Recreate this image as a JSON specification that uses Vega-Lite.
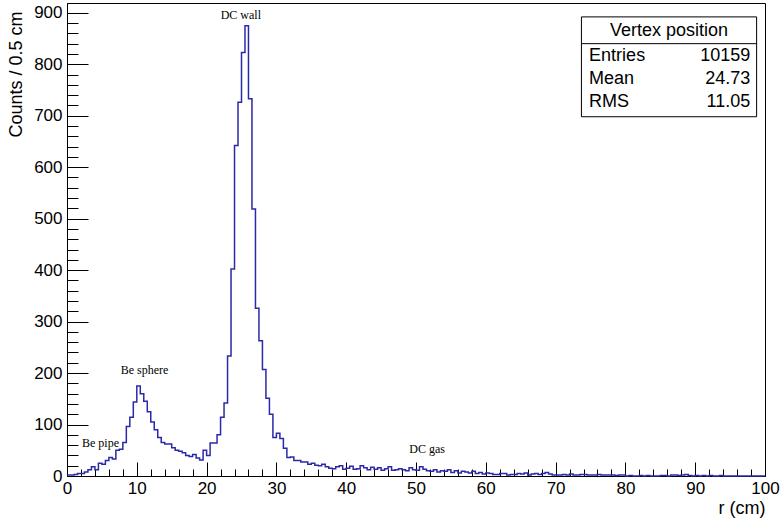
{
  "$schema": "https://vega.github.io/schema/vega-lite/v6.json",
  "width": 698,
  "height": 473,
  "autosize": "none",
  "padding": {"left": 67, "top": 3, "right": 16, "bottom": 47},
  "background": "white",
  "config": {
    "view": {"stroke": "black", "strokeWidth": 1},
    "axis": {"grid": false, "domainColor": "black", "tickColor": "black", "labelColor": "black", "titleColor": "black", "labelFont": "Liberation Sans", "titleFont": "Liberation Sans", "labelFontSize": 17, "titleFontSize": 18, "titleFontWeight": "normal"}
  },
  "resolve": {"axis": {"x": "independent", "y": "independent"}},
  "datasets": {
    "hist": [
      {"r":0,"c":2},{"r":0.5,"c":2},{"r":1,"c":3},{"r":1.5,"c":5},{"r":2,"c":5},{"r":2.5,"c":8},{"r":3,"c":12},{"r":3.5,"c":18},{"r":4,"c":12},{"r":4.5,"c":25},
      {"r":5,"c":23},{"r":5.5,"c":30},{"r":6,"c":36},{"r":6.5,"c":33},{"r":7,"c":50},{"r":7.5,"c":52},{"r":8,"c":65},{"r":8.5,"c":96},{"r":9,"c":114},{"r":9.5,"c":144},
      {"r":10,"c":175},{"r":10.5,"c":160},{"r":11,"c":145},{"r":11.5,"c":125},{"r":12,"c":105},{"r":12.5,"c":90},{"r":13,"c":75},{"r":13.5,"c":65},{"r":14,"c":62},{"r":14.5,"c":62},
      {"r":15,"c":55},{"r":15.5,"c":50},{"r":16,"c":48},{"r":16.5,"c":45},{"r":17,"c":40},{"r":17.5,"c":38},{"r":18,"c":42},{"r":18.5,"c":35},{"r":19,"c":31},{"r":19.5,"c":50},
      {"r":20,"c":40},{"r":20.5,"c":64},{"r":21,"c":64},{"r":21.5,"c":80},{"r":22,"c":114},{"r":22.5,"c":142},{"r":23,"c":233},{"r":23.5,"c":402},{"r":24,"c":642},{"r":24.5,"c":726},
      {"r":25,"c":823},{"r":25.5,"c":875},{"r":26,"c":733},{"r":26.5,"c":519},{"r":27,"c":326},{"r":27.5,"c":263},{"r":28,"c":207},{"r":28.5,"c":151},{"r":29,"c":120},{"r":29.5,"c":75},
      {"r":30,"c":83},{"r":30.5,"c":73},{"r":31,"c":54},{"r":31.5,"c":36},{"r":32,"c":37},{"r":32.5,"c":30},{"r":33,"c":30},{"r":33.5,"c":27},{"r":34,"c":27},{"r":34.5,"c":23},
      {"r":35,"c":25},{"r":35.5,"c":21},{"r":36,"c":20},{"r":36.5,"c":23},{"r":37,"c":18},{"r":37.5,"c":15},{"r":38,"c":14},{"r":38.5,"c":18},{"r":39,"c":20},{"r":39.5,"c":13},
      {"r":40,"c":15},{"r":40.5,"c":19},{"r":41,"c":13},{"r":41.5,"c":14},{"r":42,"c":20},{"r":42.5,"c":16},{"r":43,"c":12},{"r":43.5,"c":17},{"r":44,"c":13},{"r":44.5,"c":16},
      {"r":45,"c":11},{"r":45.5,"c":14},{"r":46,"c":18},{"r":46.5,"c":11},{"r":47,"c":12},{"r":47.5,"c":14},{"r":48,"c":12},{"r":48.5,"c":10},{"r":49,"c":16},{"r":49.5,"c":12},
      {"r":50,"c":11},{"r":50.5,"c":18},{"r":51,"c":13},{"r":51.5,"c":10},{"r":52,"c":9},{"r":52.5,"c":12},{"r":53,"c":8},{"r":53.5,"c":10},{"r":54,"c":9},{"r":54.5,"c":12},
      {"r":55,"c":7},{"r":55.5,"c":10},{"r":56,"c":6},{"r":56.5,"c":9},{"r":57,"c":8},{"r":57.5,"c":6},{"r":58,"c":9},{"r":58.5,"c":5},{"r":59,"c":7},{"r":59.5,"c":4},
      {"r":60,"c":6},{"r":60.5,"c":5},{"r":61,"c":3},{"r":61.5,"c":3},{"r":62,"c":5},{"r":62.5,"c":5},{"r":63,"c":2},{"r":63.5,"c":3},{"r":64,"c":3},{"r":64.5,"c":5},
      {"r":65,"c":4},{"r":65.5,"c":6},{"r":66,"c":2},{"r":66.5,"c":4},{"r":67,"c":5},{"r":67.5,"c":3},{"r":68,"c":5},{"r":68.5,"c":7},{"r":69,"c":4},{"r":69.5,"c":2},
      {"r":70,"c":2},{"r":70.5,"c":2},{"r":71,"c":3},{"r":71.5,"c":2},{"r":72,"c":4},{"r":72.5,"c":2},{"r":73,"c":2},{"r":73.5,"c":3},{"r":74,"c":3},{"r":74.5,"c":2},
      {"r":75,"c":2},{"r":75.5,"c":2},{"r":76,"c":3},{"r":76.5,"c":2},{"r":77,"c":2},{"r":77.5,"c":2},{"r":78,"c":2},{"r":78.5,"c":1},{"r":79,"c":2},{"r":79.5,"c":2},
      {"r":80,"c":0},{"r":80.5,"c":1},{"r":81,"c":0},{"r":81.5,"c":0},{"r":82,"c":1},{"r":82.5,"c":0},{"r":83,"c":1},{"r":83.5,"c":0},{"r":84,"c":0},{"r":84.5,"c":0},
      {"r":85,"c":1},{"r":85.5,"c":1},{"r":86,"c":0},{"r":86.5,"c":2},{"r":87,"c":2},{"r":87.5,"c":1},{"r":88,"c":2},{"r":88.5,"c":3},{"r":89,"c":1},{"r":89.5,"c":0},
      {"r":90,"c":1},{"r":90.5,"c":0},{"r":91,"c":1},{"r":91.5,"c":0},{"r":92,"c":1},{"r":92.5,"c":0},{"r":93,"c":0},{"r":93.5,"c":1},{"r":94,"c":0},{"r":94.5,"c":0},
      {"r":95,"c":0},{"r":95.5,"c":0},{"r":96,"c":0},{"r":96.5,"c":0},{"r":97,"c":0},{"r":97.5,"c":0},{"r":98,"c":0},{"r":98.5,"c":0},{"r":99,"c":0},{"r":99.5,"c":0},
      {"r":100,"c":0}
    ],
    "notes": [
      {"x": 4.8, "y": 64, "t": "Be pipe"},
      {"x": 11.1, "y": 205, "t": "Be sphere"},
      {"x": 24.9, "y": 896, "t": "DC wall"},
      {"x": 51.6, "y": 53, "t": "DC gas"}
    ],
    "box": [{"x1": 73.7, "x2": 98.8, "y1": 698, "y2": 892}],
    "sep": [{"x1": 73.7, "x2": 98.8, "y": 840}],
    "head": [{"x": 86.25, "y": 865, "t": "Vertex position"}],
    "statl": [{"x": 74.8, "y": 816, "t": "Entries"}, {"x": 74.8, "y": 772, "t": "Mean"}, {"x": 74.8, "y": 727, "t": "RMS"}],
    "statr": [{"x": 97.9, "y": 816, "t": "10159"}, {"x": 97.9, "y": 772, "t": "24.73"}, {"x": 97.9, "y": 727, "t": "11.05"}]
  },
  "layer": [
    {
      "data": {"name": "hist"},
      "mark": {"type": "line", "interpolate": "step-after", "color": "#2a2aa8", "strokeWidth": 1.5},
      "encoding": {
        "x": {"field": "r", "type": "quantitative", "scale": {"domain": [0, 100], "nice": false, "zero": false},
          "axis": {"orient": "bottom", "title": "r (cm)", "titleAnchor": "end", "titlePadding": -4,
            "values": [0,2,4,6,8,10,12,14,16,18,20,22,24,26,28,30,32,34,36,38,40,42,44,46,48,50,52,54,56,58,60,62,64,66,68,70,72,74,76,78,80,82,84,86,88,90,92,94,96,98,100],
            "labelExpr": "datum.value % 10 === 0 ? datum.label : ''",
            "labelOverlap": false, "labelFlush": false,
            "tickSize": {"condition": {"test": "datum.value % 10 === 0", "value": -14}, "value": -7},
            "labelPadding": 18}},
        "y": {"field": "c", "type": "quantitative", "scale": {"domain": [0, 919], "nice": false},
          "axis": {"orient": "left", "title": "Counts / 0.5 cm", "titleAnchor": "end", "titlePadding": 8, "titleY": 8,
            "values": [0,20,40,60,80,100,120,140,160,180,200,220,240,260,280,300,320,340,360,380,400,420,440,460,480,500,520,540,560,580,600,620,640,660,680,700,720,740,760,780,800,820,840,860,880,900],
            "labelExpr": "datum.value % 100 === 0 ? datum.label : ''",
            "labelOverlap": false, "labelFlush": false,
            "tickSize": {"condition": {"test": "datum.value % 100 === 0", "value": -21}, "value": -11},
            "labelPadding": 26}}
      }
    },
    {
      "data": {"name": "notes"},
      "mark": {"type": "text", "font": "Liberation Serif", "fontSize": 12, "color": "black", "align": "center", "baseline": "middle"},
      "encoding": {
        "x": {"field": "x", "type": "quantitative", "axis": null},
        "y": {"field": "y", "type": "quantitative", "axis": null},
        "text": {"field": "t"}
      }
    },
    {
      "data": {"name": "box"},
      "mark": {"type": "rect", "fill": "white", "stroke": "black", "strokeWidth": 1},
      "encoding": {
        "x": {"field": "x1", "type": "quantitative", "axis": null},
        "x2": {"field": "x2"},
        "y": {"field": "y1", "type": "quantitative", "axis": null},
        "y2": {"field": "y2"}
      }
    },
    {
      "data": {"name": "sep"},
      "mark": {"type": "rule", "color": "black", "strokeWidth": 1},
      "encoding": {
        "x": {"field": "x1", "type": "quantitative", "axis": null},
        "x2": {"field": "x2"},
        "y": {"field": "y", "type": "quantitative", "axis": null}
      }
    },
    {
      "data": {"name": "head"},
      "mark": {"type": "text", "font": "Liberation Sans", "fontSize": 18, "color": "black", "align": "center", "baseline": "middle"},
      "encoding": {
        "x": {"field": "x", "type": "quantitative", "axis": null},
        "y": {"field": "y", "type": "quantitative", "axis": null},
        "text": {"field": "t"}
      }
    },
    {
      "data": {"name": "statl"},
      "mark": {"type": "text", "font": "Liberation Sans", "fontSize": 18, "color": "black", "align": "left", "baseline": "middle"},
      "encoding": {
        "x": {"field": "x", "type": "quantitative", "axis": null},
        "y": {"field": "y", "type": "quantitative", "axis": null},
        "text": {"field": "t"}
      }
    },
    {
      "data": {"name": "statr"},
      "mark": {"type": "text", "font": "Liberation Sans", "fontSize": 18, "color": "black", "align": "right", "baseline": "middle"},
      "encoding": {
        "x": {"field": "x", "type": "quantitative", "axis": null},
        "y": {"field": "y", "type": "quantitative", "axis": null},
        "text": {"field": "t"}
      }
    }
  ]
}
